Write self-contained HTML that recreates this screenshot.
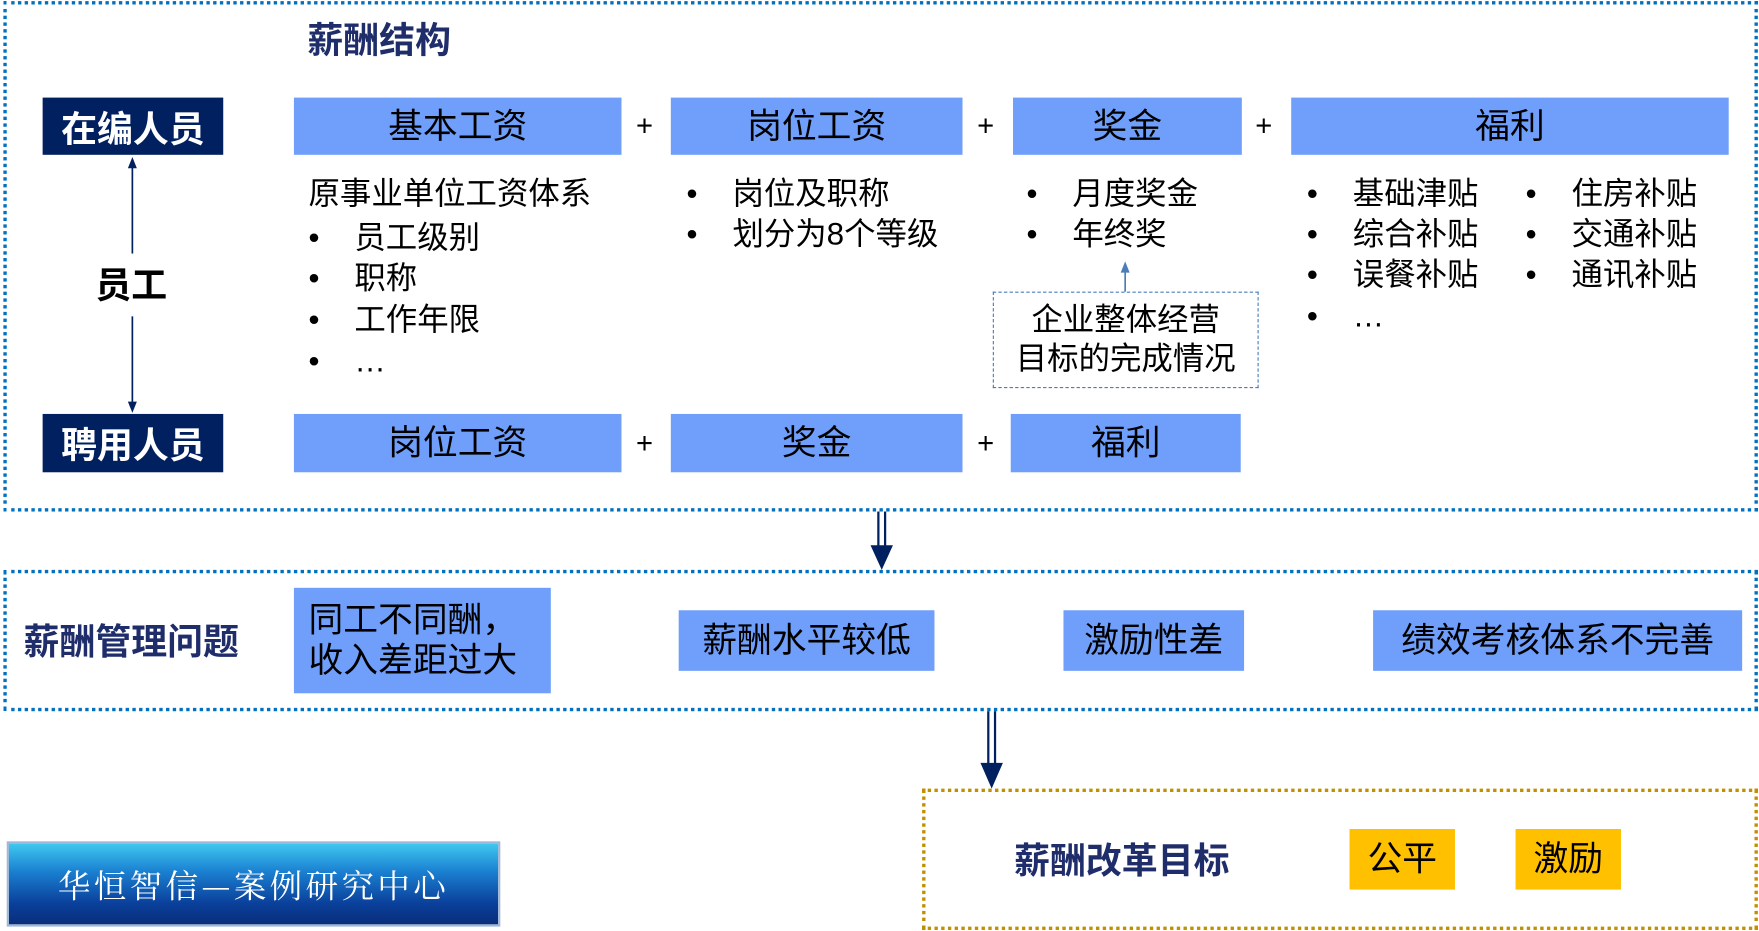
<!DOCTYPE html>
<html><head><meta charset="utf-8"><style>
html,body{margin:0;padding:0;background:#fff;}
body{width:1759px;height:931px;overflow:hidden;position:relative;}
#c{position:absolute;left:0;top:0;width:1568px;height:830px;transform:scale(1.1218);transform-origin:0 0;font-family:"Liberation Sans","Noto Sans CJK SC",sans-serif;}
.a{position:absolute;}
.dot{position:absolute;border:3.5px dotted #0070c0;box-sizing:border-box;}
.nv{position:absolute;background:#002060;color:#fff;font-weight:bold;font-size:32px;display:flex;align-items:center;justify-content:center;}
.bx{position:absolute;background:#6f9ffb;color:#000;font-size:31px;display:flex;align-items:center;justify-content:center;text-align:center;line-height:1.15;}
.t{position:absolute;font-size:28px;color:#000;white-space:nowrap;line-height:1;}
.pl{position:absolute;font-size:26px;color:#000;}
.h{position:absolute;font-weight:bold;color:#1f2d6b;font-size:32px;white-space:nowrap;line-height:1;}
</style></head><body><div id="c">
<div class="dot" style="left:3px;top:1px;width:1564px;height:455px;"></div>
<div class="h" style="left:274px;top:20px;">薪酬结构</div>
<div class="nv" style="left:38px;top:87px;width:161px;height:51px;">在编人员</div>
<div class="nv" style="left:38px;top:369px;width:161px;height:52px;">聘用人员</div>
<svg class="a" style="left:0;top:0" width="1568" height="830">
<line x1="118" y1="226" x2="118" y2="146" stroke="#002060" stroke-width="1.5"/><path d="M114,150 L118,140 L122,150z" fill="#002060"/>
<line x1="118" y1="282" x2="118" y2="360" stroke="#002060" stroke-width="1.5"/><path d="M114,358 L118,368 L122,358z" fill="#002060"/>
<line x1="1003" y1="260" x2="1003" y2="240" stroke="#4a7ebb" stroke-width="1.5"/><path d="M999,243 L1003,233 L1007,243z" fill="#4a7ebb"/>
<line x1="783" y1="456" x2="783" y2="488" stroke="#002060" stroke-width="2"/><line x1="789" y1="456" x2="789" y2="488" stroke="#002060" stroke-width="2"/><path d="M776,486 L796,486 L786,508z" fill="#002060"/>
<line x1="881" y1="634" x2="881" y2="682" stroke="#002060" stroke-width="2"/><line x1="887" y1="634" x2="887" y2="682" stroke="#002060" stroke-width="2"/><path d="M874,680 L894,680 L884,703z" fill="#002060"/>
</svg>
<div class="a" style="left:85px;top:238px;font-size:32px;font-weight:bold;line-height:1;">员工</div>
<div class="bx" style="left:262px;top:87px;width:292px;height:51px;">基本工资</div>
<div class="pl" style="left:567px;top:97px;">+</div>
<div class="bx" style="left:598px;top:87px;width:260px;height:51px;">岗位工资</div>
<div class="pl" style="left:871px;top:97px;">+</div>
<div class="bx" style="left:903px;top:87px;width:204px;height:51px;">奖金</div>
<div class="pl" style="left:1119px;top:97px;">+</div>
<div class="bx" style="left:1151px;top:87px;width:390px;height:51px;">福利</div>
<div class="bx" style="left:262px;top:369px;width:292px;height:52px;">岗位工资</div>
<div class="pl" style="left:567px;top:380px;">+</div>
<div class="bx" style="left:598px;top:369px;width:260px;height:52px;">奖金</div>
<div class="pl" style="left:871px;top:380px;">+</div>
<div class="bx" style="left:901px;top:369px;width:205px;height:52px;">福利</div>
<div class="t" style="left:275px;top:159px;">原事业单位工资体系</div>
<div class="t" style="left:275px;top:198px;">•&nbsp;&nbsp;&nbsp;&nbsp;员工级别</div>
<div class="t" style="left:275px;top:234px;">•&nbsp;&nbsp;&nbsp;&nbsp;职称</div>
<div class="t" style="left:275px;top:271px;">•&nbsp;&nbsp;&nbsp;&nbsp;工作年限</div>
<div class="t" style="left:275px;top:308px;">•&nbsp;&nbsp;&nbsp;&nbsp;…</div>
<div class="t" style="left:612px;top:159px;">•&nbsp;&nbsp;&nbsp;&nbsp;岗位及职称</div>
<div class="t" style="left:612px;top:195px;">•&nbsp;&nbsp;&nbsp;&nbsp;划分为8个等级</div>
<div class="t" style="left:915px;top:159px;">•&nbsp;&nbsp;&nbsp;&nbsp;月度奖金</div>
<div class="t" style="left:915px;top:195px;">•&nbsp;&nbsp;&nbsp;&nbsp;年终奖</div>
<div class="a" style="left:885px;top:260px;width:237px;height:86px;border:1.5px dashed #4a7ebb;box-sizing:border-box;font-size:28px;text-align:center;line-height:35px;padding-top:6px;">企业整体经营<br>目标的完成情况</div>
<div class="t" style="left:1165px;top:159px;">•&nbsp;&nbsp;&nbsp;&nbsp;基础津贴</div>
<div class="t" style="left:1165px;top:195px;">•&nbsp;&nbsp;&nbsp;&nbsp;综合补贴</div>
<div class="t" style="left:1165px;top:231px;">•&nbsp;&nbsp;&nbsp;&nbsp;误餐补贴</div>
<div class="t" style="left:1165px;top:268px;">•&nbsp;&nbsp;&nbsp;&nbsp;…</div>
<div class="t" style="left:1360px;top:159px;">•&nbsp;&nbsp;&nbsp;&nbsp;住房补贴</div>
<div class="t" style="left:1360px;top:195px;">•&nbsp;&nbsp;&nbsp;&nbsp;交通补贴</div>
<div class="t" style="left:1360px;top:231px;">•&nbsp;&nbsp;&nbsp;&nbsp;通讯补贴</div>
<div class="dot" style="left:3px;top:508px;width:1564px;height:126px;"></div>
<div class="h" style="left:21px;top:556px;">薪酬管理问题</div>
<div class="bx" style="left:262px;top:524px;width:229px;height:94px;justify-content:flex-start;padding-left:13px;box-sizing:border-box;text-align:left;">同工不同酬，<br>收入差距过大</div>
<div class="bx" style="left:605px;top:544px;width:228px;height:54px;">薪酬水平较低</div>
<div class="bx" style="left:948px;top:544px;width:161px;height:54px;">激励性差</div>
<div class="bx" style="left:1224px;top:544px;width:329px;height:54px;">绩效考核体系不完善</div>
<div class="a" style="left:822px;top:703px;width:745px;height:126px;border:3.5px dotted #c09000;box-sizing:border-box;"></div>
<div class="h" style="left:904px;top:751px;">薪酬改革目标</div>
<div class="bx" style="left:1203px;top:739px;width:94px;height:54px;background:#ffc000;">公平</div>
<div class="bx" style="left:1351px;top:739px;width:94px;height:54px;background:#ffc000;">激励</div>
<div class="a" style="left:6px;top:750px;width:440px;height:76px;box-sizing:border-box;border:2px solid #9fb8d8;background:linear-gradient(180deg,#3fc8f0 0%,#1a7fd0 35%,#0a3f9a 75%,#0a2d7a 100%);color:#fff;font-family:'Noto Serif CJK SC','Liberation Serif',serif;font-size:29px;display:flex;align-items:center;justify-content:center;letter-spacing:3px;">华恒智信—案例研究中心</div>
</div></body></html>
